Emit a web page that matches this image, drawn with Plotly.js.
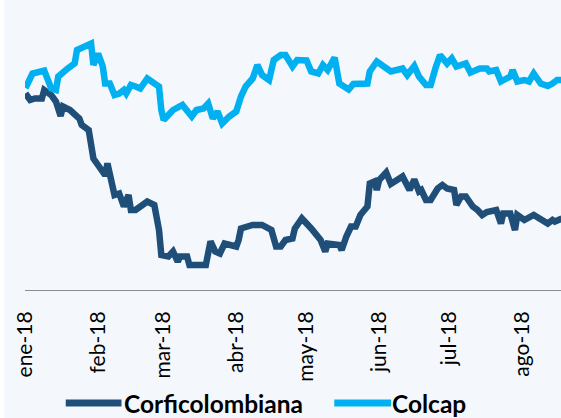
<!DOCTYPE html>
<html>
<head>
<meta charset="utf-8">
<script src="https://cdn.plot.ly/plotly-3.0.1.min.js"></script>
<style>
  html, body { margin: 0; padding: 0; background: #ffffff; width: 561px; height: 418px; overflow: hidden; }
  #chart { position: absolute; left: 4px; top: 0; width: 557px; height: 418px; }
</style>
</head>
<body>
<div id="chart"></div>
<script>
const seriesNames = ['Corficolombiana', 'Colcap'];
const seriesColors = ['#1F4E79', '#00B0F0'];

const monthTicks = ['2018-01-01','2018-02-01','2018-03-01','2018-04-01','2018-05-01','2018-06-01','2018-07-01','2018-08-01'];
const monthLabels = ['ene-18','feb-18','mar-18','abr-18','may-18','jun-18','jul-18','ago-18'];

const corfiDates = [
 '2018-01-01','2018-01-03','2018-01-05','2018-01-08','2018-01-09','2018-01-12','2018-01-14','2018-01-16','2018-01-17','2018-01-20',
 '2018-01-24','2018-01-25','2018-01-28','2018-01-30','2018-02-02','2018-02-04','2018-02-05','2018-02-06','2018-02-08','2018-02-10',
 '2018-02-12','2018-02-14','2018-02-15','2018-02-17','2018-02-20','2018-02-22','2018-02-25','2018-02-27','2018-02-28','2018-03-03',
 '2018-03-05','2018-03-07','2018-03-08','2018-03-11','2018-03-12','2018-03-19','2018-03-21','2018-03-23','2018-03-25','2018-03-27',
 '2018-04-01','2018-04-02','2018-04-03','2018-04-08','2018-04-12','2018-04-16','2018-04-18','2018-04-20','2018-04-22','2018-04-25',
 '2018-04-26','2018-04-29','2018-05-03','2018-05-05','2018-05-07','2018-05-09','2018-05-10','2018-05-15','2018-05-16','2018-05-18',
 '2018-05-20','2018-05-22','2018-05-24','2018-05-27','2018-05-28','2018-05-30','2018-05-31','2018-06-01','2018-06-04','2018-06-06',
 '2018-06-08','2018-06-11','2018-06-14','2018-06-16','2018-06-18','2018-06-19','2018-06-21','2018-06-23','2018-06-26','2018-06-28',
 '2018-06-30','2018-07-03','2018-07-04','2018-07-06','2018-07-08','2018-07-11','2018-07-13','2018-07-15','2018-07-17','2018-07-21',
 '2018-07-23','2018-07-24','2018-07-27','2018-07-29','2018-07-30','2018-08-02','2018-08-06','2018-08-08','2018-08-12','2018-08-14',
 '2018-08-15','2018-08-18'];
const corfiValues = [
 99.3, 98.0, 98.3, 98.3, 100.0, 99.0, 97.7, 94.8, 96.7, 96.0,
 94.3, 93.0, 92.0, 86.3, 84.3, 83.0, 85.3, 82.7, 79.0, 79.3,
 76.7, 79.0, 76.0, 76.0, 77.0, 77.7, 77.0, 72.0, 67.0, 66.7,
 67.7, 65.7, 66.7, 66.7, 65.0, 65.0, 69.7, 67.7, 67.3, 69.3,
 68.7, 70.0, 72.3, 73.0, 73.0, 72.0, 68.7, 68.7, 70.0, 70.3,
 72.3, 74.3, 72.3, 71.0, 70.0, 67.7, 69.3, 69.0, 68.0, 70.7,
 72.7, 72.7, 75.0, 76.7, 81.3, 81.7, 80.0, 82.0, 83.5, 81.2,
 81.9, 82.7, 80.0, 82.1, 79.7, 80.0, 78.0, 78.0, 80.3, 81.0,
 80.3, 80.0, 77.0, 78.7, 78.7, 76.7, 76.0, 75.0, 75.6, 76.0,
 73.3, 75.3, 75.3, 72.0, 75.0, 74.0, 75.0, 74.3, 73.3, 74.0,
 73.7, 74.3];

const colcapDates = [
 '2018-01-01','2018-01-04','2018-01-09','2018-01-12','2018-01-14','2018-01-15','2018-01-19','2018-01-22','2018-01-23','2018-01-26',
 '2018-01-29','2018-01-30','2018-02-01','2018-02-03','2018-02-04','2018-02-06','2018-02-08','2018-02-10','2018-02-12','2018-02-13',
 '2018-02-15','2018-02-17','2018-02-19','2018-02-22','2018-02-25','2018-02-27','2018-02-28','2018-03-01','2018-03-03','2018-03-05',
 '2018-03-09','2018-03-11','2018-03-13','2018-03-15','2018-03-18','2018-03-20','2018-03-22','2018-03-24','2018-03-26','2018-03-29',
 '2018-04-01','2018-04-03','2018-04-05','2018-04-08','2018-04-10','2018-04-12','2018-04-15','2018-04-17','2018-04-20','2018-04-22',
 '2018-04-25','2018-04-27','2018-05-01','2018-05-03','2018-05-06','2018-05-08','2018-05-10','2018-05-13','2018-05-15','2018-05-19',
 '2018-05-21','2018-05-27','2018-05-28','2018-05-31','2018-06-06','2018-06-11','2018-06-13','2018-06-16','2018-06-18','2018-06-21',
 '2018-06-23','2018-06-25','2018-06-27','2018-06-30','2018-07-02','2018-07-04','2018-07-08','2018-07-10','2018-07-14','2018-07-17',
 '2018-07-18','2018-07-21','2018-07-23','2018-07-27','2018-07-28','2018-07-30','2018-08-02','2018-08-04','2018-08-06','2018-08-09',
 '2018-08-12','2018-08-14','2018-08-16','2018-08-18'];
const colcapValues = [
 100.4, 103.3, 103.9, 100.3, 100.0, 102.7, 104.3, 105.3, 108.0, 108.7,
 109.3, 105.0, 107.3, 104.7, 101.3, 101.3, 99.0, 99.3, 100.0, 99.3,
 101.0, 100.7, 100.3, 102.3, 101.3, 100.7, 96.0, 94.0, 95.0, 96.0,
 97.0, 96.0, 94.7, 96.0, 96.3, 97.3, 94.3, 95.7, 93.3, 94.7,
 95.7, 98.7, 100.7, 102.3, 105.0, 103.0, 102.0, 106.0, 107.0, 107.0,
 104.7, 106.0, 105.9, 103.7, 103.3, 105.0, 104.0, 106.5, 101.3, 100.1,
 101.2, 101.3, 103.7, 105.7, 103.7, 104.3, 103.0, 104.8, 102.7, 101.0,
 101.0, 104.3, 107.0, 105.3, 106.3, 104.7, 105.3, 103.5, 104.3, 104.3,
 103.7, 104.0, 101.7, 102.7, 104.0, 101.7, 102.0, 101.7, 103.3, 101.3,
 100.8, 101.3, 102.0, 102.0];

const traces = [
  { x: corfiDates, y: corfiValues, name: seriesNames[0], type: 'scatter', mode: 'lines',
    line: { color: seriesColors[0], width: 6.5 }, hoverinfo: 'x+y' },
  { x: colcapDates, y: colcapValues, name: seriesNames[1], type: 'scatter', mode: 'lines',
    line: { color: seriesColors[1], width: 6.5 }, hoverinfo: 'x+y' }
];

const bg = '#F4F8FC';
const legendY = -0.39;
const layout = {
  width: 557, height: 418,
  margin: { l: 21, r: 0, t: 0, b: 128, pad: 0 },
  paper_bgcolor: bg, plot_bgcolor: bg,
  showlegend: false,
  xaxis: {
    type: 'date',
    range: ['2017-12-31 19:00', '2018-08-17 15:36'],
    tickmode: 'array', tickvals: monthTicks, ticktext: monthLabels,
    tickangle: -90, ticks: '', ticklabelstandoff: 12,
    tickfont: { family: 'Lato, sans-serif', size: 21, color: '#000000' },
    showgrid: false, zeroline: false,
    showline: true, linecolor: '#8C8C8C', linewidth: 1
  },
  yaxis: {
    range: [60, 118], visible: false, showgrid: false, zeroline: false, fixedrange: true
  },
  shapes: [
    { type: 'line', xref: 'paper', yref: 'paper', x0: 0.076, x1: 0.180, y0: legendY, y1: legendY,
      line: { color: seriesColors[0], width: 7 } },
    { type: 'line', xref: 'paper', yref: 'paper', x0: 0.577, x1: 0.683, y0: legendY, y1: legendY,
      line: { color: seriesColors[1], width: 7 } }
  ],
  annotations: [
    { xref: 'paper', yref: 'paper', x: 0.183, y: legendY, xanchor: 'left', yanchor: 'middle',
      text: seriesNames[0], showarrow: false, borderpad: 0,
      font: { family: 'Lato, sans-serif', size: 24.5, weight: 'bold', color: '#000000' } },
    { xref: 'paper', yref: 'paper', x: 0.683, y: legendY, xanchor: 'left', yanchor: 'middle',
      text: seriesNames[1], showarrow: false, borderpad: 0,
      font: { family: 'Lato, sans-serif', size: 24.5, weight: 'bold', color: '#000000' } }
  ]
};

Plotly.newPlot('chart', traces, layout, { staticPlot: true, displayModeBar: false });
</script>
</body>
</html>
